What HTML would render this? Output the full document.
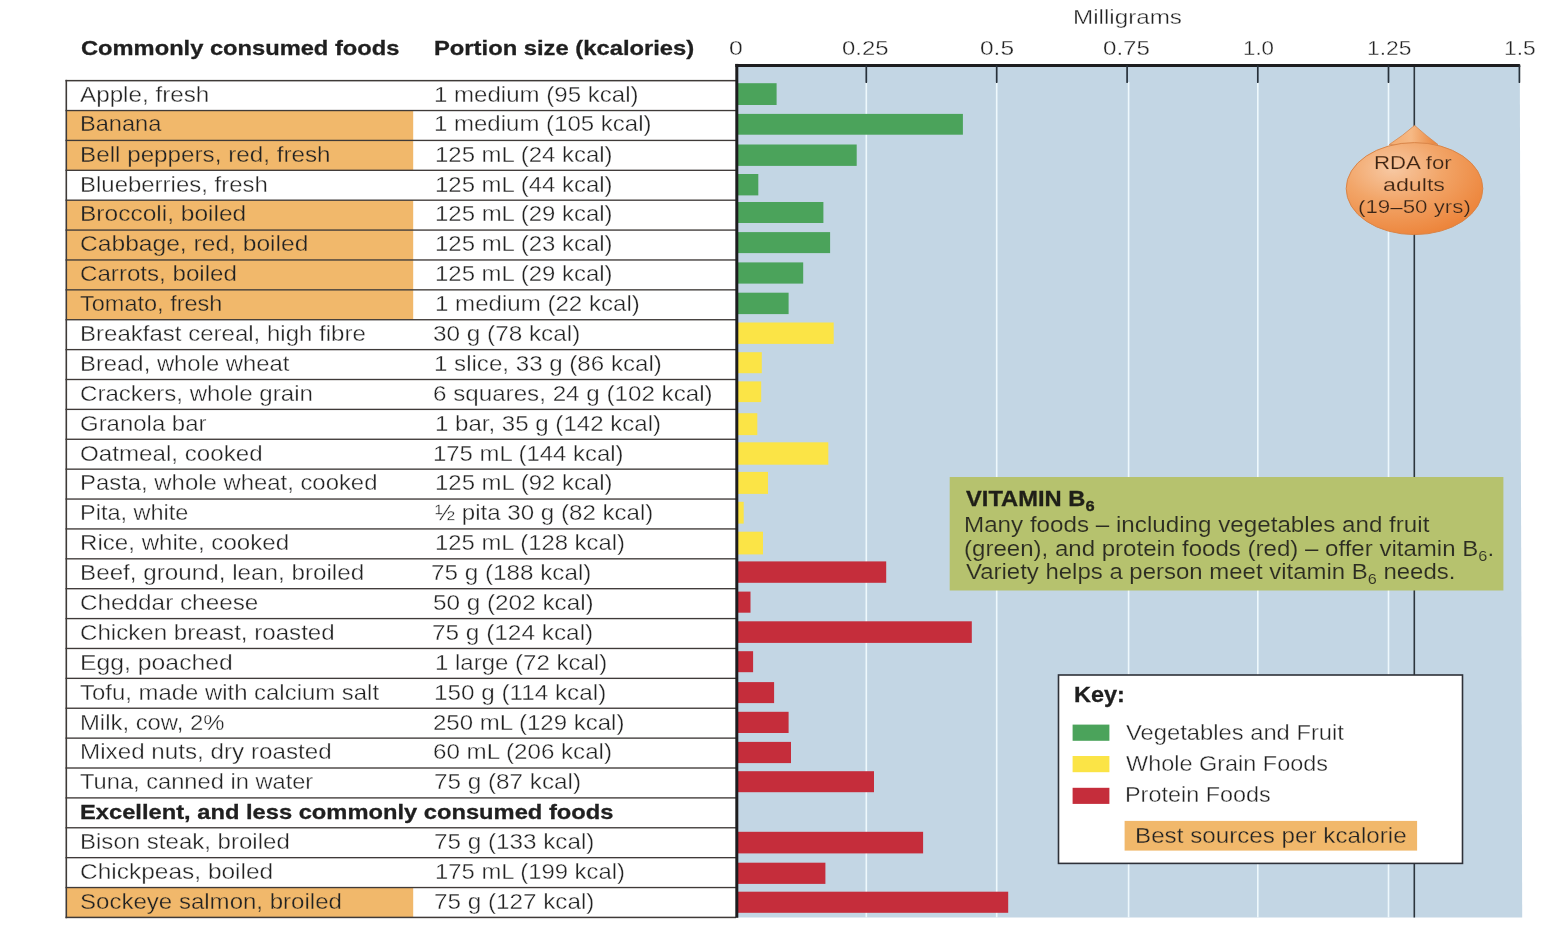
<!DOCTYPE html>
<html lang="en">
<head>
<meta charset="utf-8">
<title>Vitamin B6 in commonly consumed foods</title>
<style>
html,body{margin:0;padding:0;background:#fff;overflow:hidden;}
section{margin:0;padding:0;border:0;}
body{width:1545px;height:926px;overflow:hidden;position:relative;font-family:"Liberation Sans",sans-serif;}
#chart{position:absolute;left:0;top:0;width:1545px;height:926px;overflow:hidden;filter:blur(0.4px);}
#chart svg{position:absolute;left:0;top:0;}
.t{position:absolute;white-space:nowrap;line-height:1;transform-origin:0 0;margin:0;padding:0;font-weight:400;}
.t b{font-weight:700;}
.t .sub{position:relative;display:inline-block;}
</style>
</head>
<body>
<div id="chart">
<svg width="1545" height="926" viewBox="0 0 1545 926" aria-hidden="true">
<defs><radialGradient id="rg" cx="0.34" cy="0.28" r="0.80"><stop offset="0" stop-color="#f7c9a4"/><stop offset="0.45" stop-color="#f2a568"/><stop offset="1" stop-color="#ec8136"/></radialGradient><linearGradient id="cg" x1="0" y1="0" x2="1" y2="0"><stop offset="0" stop-color="#f3ab6f"/><stop offset="0.45" stop-color="#f6b985"/><stop offset="1" stop-color="#e88238"/></linearGradient></defs>
<polygon points="736.0,65.0 1519.8,65.0 1522.2,917.5 736.0,917.5" fill="#c3d6e4"/>
<rect x="865.5" y="82" width="1.6" height="835.5" fill="#eef8fc"/>
<rect x="995.9" y="82" width="1.6" height="835.5" fill="#eef8fc"/>
<rect x="1127.8" y="82" width="1.6" height="835.5" fill="#eef8fc"/>
<rect x="1257" y="82" width="1.6" height="835.5" fill="#eef8fc"/>
<rect x="1387.7" y="82" width="1.6" height="835.5" fill="#eef8fc"/>
<rect x="1413.5" y="66" width="1.6" height="851.5" fill="#2c353c"/>
<rect x="737" y="83.2" width="39.6" height="21.8" fill="#4ba35b"/>
<rect x="737" y="113.9" width="225.9" height="20.8" fill="#4ba35b"/>
<rect x="737" y="144.5" width="119.7" height="21.4" fill="#4ba35b"/>
<rect x="737" y="174" width="21.3" height="21.4" fill="#4ba35b"/>
<rect x="737" y="202" width="86.4" height="21" fill="#4ba35b"/>
<rect x="737" y="232.1" width="93.1" height="21" fill="#4ba35b"/>
<rect x="737" y="262.4" width="66.2" height="21.2" fill="#4ba35b"/>
<rect x="737" y="292.7" width="51.6" height="21.4" fill="#4ba35b"/>
<rect x="737" y="322.5" width="96.7" height="21.4" fill="#fbe446"/>
<rect x="737" y="352.2" width="24.8" height="21" fill="#fbe446"/>
<rect x="737" y="381.4" width="24.2" height="20.7" fill="#fbe446"/>
<rect x="737" y="413.2" width="20.3" height="21.9" fill="#fbe446"/>
<rect x="737" y="442.3" width="91.3" height="22.4" fill="#fbe446"/>
<rect x="737" y="471.9" width="31" height="22" fill="#fbe446"/>
<rect x="737" y="501.8" width="6.7" height="21.8" fill="#fbe446"/>
<rect x="737" y="531.7" width="26" height="22.7" fill="#fbe446"/>
<rect x="737" y="561.4" width="149.2" height="21.4" fill="#c52d3b"/>
<rect x="737" y="591.6" width="13.5" height="21.1" fill="#c52d3b"/>
<rect x="737" y="621.3" width="234.8" height="21.6" fill="#c52d3b"/>
<rect x="737" y="651.2" width="16.1" height="21" fill="#c52d3b"/>
<rect x="737" y="682.1" width="37.1" height="21" fill="#c52d3b"/>
<rect x="737" y="711.8" width="51.6" height="21.2" fill="#c52d3b"/>
<rect x="737" y="741.9" width="54" height="21.2" fill="#c52d3b"/>
<rect x="737" y="771.2" width="137" height="21" fill="#c52d3b"/>
<rect x="737" y="831.8" width="186.1" height="21.6" fill="#c52d3b"/>
<rect x="737" y="862.7" width="88.4" height="21.2" fill="#c52d3b"/>
<rect x="737" y="891.7" width="271.2" height="21.1" fill="#c52d3b"/>
<rect x="66.3" y="110.54" width="346.9" height="29.89" fill="#f1b86b"/>
<rect x="66.3" y="140.42" width="346.9" height="29.89" fill="#f1b86b"/>
<rect x="66.3" y="200.19" width="346.9" height="29.89" fill="#f1b86b"/>
<rect x="66.3" y="230.08" width="346.9" height="29.89" fill="#f1b86b"/>
<rect x="66.3" y="259.96" width="346.9" height="29.89" fill="#f1b86b"/>
<rect x="66.3" y="289.85" width="346.9" height="29.89" fill="#f1b86b"/>
<rect x="66.3" y="887.55" width="346.9" height="29.89" fill="#f1b86b"/>
<rect x="65.5" y="79.9" width="670.5" height="1.5" fill="#3f3a38"/>
<rect x="65.5" y="109.86" width="670.5" height="1.35" fill="#3f3a38"/>
<rect x="65.5" y="139.75" width="670.5" height="1.35" fill="#3f3a38"/>
<rect x="65.5" y="169.63" width="670.5" height="1.35" fill="#3f3a38"/>
<rect x="65.5" y="199.51" width="670.5" height="1.35" fill="#3f3a38"/>
<rect x="65.5" y="229.4" width="670.5" height="1.35" fill="#3f3a38"/>
<rect x="65.5" y="259.29" width="670.5" height="1.35" fill="#3f3a38"/>
<rect x="65.5" y="289.17" width="670.5" height="1.35" fill="#3f3a38"/>
<rect x="65.5" y="319.06" width="670.5" height="1.35" fill="#3f3a38"/>
<rect x="65.5" y="348.94" width="670.5" height="1.35" fill="#3f3a38"/>
<rect x="65.5" y="378.82" width="670.5" height="1.35" fill="#3f3a38"/>
<rect x="65.5" y="408.71" width="670.5" height="1.35" fill="#3f3a38"/>
<rect x="65.5" y="438.59" width="670.5" height="1.35" fill="#3f3a38"/>
<rect x="65.5" y="468.48" width="670.5" height="1.35" fill="#3f3a38"/>
<rect x="65.5" y="498.37" width="670.5" height="1.35" fill="#3f3a38"/>
<rect x="65.5" y="528.25" width="670.5" height="1.35" fill="#3f3a38"/>
<rect x="65.5" y="558.14" width="670.5" height="1.35" fill="#3f3a38"/>
<rect x="65.5" y="588.02" width="670.5" height="1.35" fill="#3f3a38"/>
<rect x="65.5" y="617.91" width="670.5" height="1.35" fill="#3f3a38"/>
<rect x="65.5" y="647.79" width="670.5" height="1.35" fill="#3f3a38"/>
<rect x="65.5" y="677.68" width="670.5" height="1.35" fill="#3f3a38"/>
<rect x="65.5" y="707.56" width="670.5" height="1.35" fill="#3f3a38"/>
<rect x="65.5" y="737.45" width="670.5" height="1.35" fill="#3f3a38"/>
<rect x="65.5" y="767.33" width="670.5" height="1.35" fill="#3f3a38"/>
<rect x="65.5" y="797.22" width="670.5" height="1.35" fill="#3f3a38"/>
<rect x="65.5" y="827.1" width="670.5" height="1.35" fill="#3f3a38"/>
<rect x="65.5" y="856.99" width="670.5" height="1.35" fill="#3f3a38"/>
<rect x="65.5" y="886.87" width="670.5" height="1.35" fill="#3f3a38"/>
<rect x="65.5" y="916.68" width="670.5" height="1.5" fill="#3f3a38"/>
<rect x="65.5" y="79.85" width="1.6" height="838.38" fill="#3f3a38"/>
<path d="M735.3 63.9 H1519.2 Q1520.3 63.9 1520.3 65 V66.9 H735.3 Z" fill="#1d1d1f"/>
<rect x="735.3" y="63.9" width="3.0" height="853.9" fill="#1d1d1f"/>
<line x1="866.3" y1="66" x2="866.3" y2="82.2" stroke="#27313a" stroke-width="1.7" stroke-linecap="round"/>
<line x1="996.7" y1="66" x2="996.7" y2="82.2" stroke="#27313a" stroke-width="1.7" stroke-linecap="round"/>
<line x1="1127.1" y1="66" x2="1127.1" y2="82.2" stroke="#27313a" stroke-width="1.7" stroke-linecap="round"/>
<line x1="1257.8" y1="66" x2="1257.8" y2="82.2" stroke="#27313a" stroke-width="1.7" stroke-linecap="round"/>
<line x1="1388.5" y1="66" x2="1388.5" y2="82.2" stroke="#27313a" stroke-width="1.7" stroke-linecap="round"/>
<line x1="1519.4" y1="66" x2="1519.4" y2="82.2" stroke="#27313a" stroke-width="1.7" stroke-linecap="round"/>
<rect x="949.7" y="477" width="553.7" height="113.5" fill="#b6c26e"/>
<rect x="1058.5" y="675" width="404" height="188.4" fill="#ffffff" stroke="#2e3138" stroke-width="1.6"/>
<rect x="1072.6" y="724.6" width="36.8" height="16.2" fill="#4ba35b"/>
<rect x="1072.6" y="756.0" width="36.8" height="16.2" fill="#fbe446"/>
<rect x="1072.6" y="787.8" width="36.8" height="16.1" fill="#c52d3b"/>
<rect x="1124.6" y="820.9" width="292.5" height="29.7" fill="#f1b86b"/>
<path d="M1414.6 125.4 Q1426 135.6 1438 144.6 L1389.2 144.6 Q1403 135.6 1414.6 125.4 Z" fill="url(#cg)" stroke="#d9864a" stroke-width="0.8"/>
<ellipse cx="1414.5" cy="188.6" rx="68.3" ry="46" fill="url(#rg)" stroke="#d98548" stroke-width="1"/>
</svg>
<section id="axis" aria-label="Milligrams axis">
<div class="t axis-title" style="left:1072.51px;top:7px;font-size:20.6px;color:#222222;-webkit-text-stroke:0.35px #fff;transform:scaleX(1.1753)">Milligrams</div>
<div class="t th" style="left:80.76px;top:38px;font-size:20.4px;color:#1f1f1f;-webkit-text-stroke:0.3px #1f1f1f;transform:scaleX(1.1612)"><b>Commonly consumed foods</b></div>
<div class="t th" style="left:433.61px;top:38px;font-size:20.4px;color:#1f1f1f;-webkit-text-stroke:0.3px #1f1f1f;transform:scaleX(1.1657)"><b>Portion size (kcalories)</b></div>
<div class="t tick" style="left:729.12px;top:38px;font-size:20.6px;color:#222222;-webkit-text-stroke:0.35px #fff;transform:scaleX(1.2039)">0</div>
<div class="t tick" style="left:842.45px;top:38px;font-size:20.6px;color:#222222;-webkit-text-stroke:0.35px #fff;transform:scaleX(1.1602)">0.25</div>
<div class="t tick" style="left:979.73px;top:38px;font-size:20.6px;color:#222222;-webkit-text-stroke:0.35px #fff;transform:scaleX(1.1893)">0.5</div>
<div class="t tick" style="left:1103.35px;top:38px;font-size:20.6px;color:#222222;-webkit-text-stroke:0.35px #fff;transform:scaleX(1.1705)">0.75</div>
<div class="t tick" style="left:1242.51px;top:38px;font-size:20.6px;color:#222222;-webkit-text-stroke:0.35px #fff;transform:scaleX(1.0806)">1.0</div>
<div class="t tick" style="left:1366.58px;top:38px;font-size:20.6px;color:#222222;-webkit-text-stroke:0.35px #fff;transform:scaleX(1.1061)">1.25</div>
<div class="t tick" style="left:1504.17px;top:38px;font-size:20.6px;color:#222222;-webkit-text-stroke:0.35px #fff;transform:scaleX(1.1088)">1.5</div>
</section>
<section id="foods" aria-label="Foods and portion sizes">
<div class="t food" style="left:80.4px;top:84px;font-size:21.6px;color:#222222;-webkit-text-stroke:0.35px #fff;transform:scaleX(1.1223)">Apple, fresh</div>
<div class="t portion" style="left:434.4px;top:84px;font-size:21.6px;color:#222222;-webkit-text-stroke:0.35px #fff;transform:scaleX(1.1137)">1 medium (95 kcal)</div>
<div class="t food" style="left:80.4px;top:113px;font-size:21.6px;color:#222222;-webkit-text-stroke:0.35px #f1b86b;transform:scaleX(1.0924)">Banana</div>
<div class="t portion" style="left:434.4px;top:113px;font-size:21.6px;color:#222222;-webkit-text-stroke:0.35px #fff;transform:scaleX(1.1118)">1 medium (105 kcal)</div>
<div class="t food" style="left:80.4px;top:144px;font-size:21.6px;color:#222222;-webkit-text-stroke:0.35px #f1b86b;transform:scaleX(1.1224)">Bell peppers, red, fresh</div>
<div class="t portion" style="left:434.5px;top:144px;font-size:21.6px;color:#222222;-webkit-text-stroke:0.35px #fff;transform:scaleX(1.1092)">125 mL (24 kcal)</div>
<div class="t food" style="left:80.4px;top:174px;font-size:21.6px;color:#222222;-webkit-text-stroke:0.35px #fff;transform:scaleX(1.1097)">Blueberries, fresh</div>
<div class="t portion" style="left:434.5px;top:174px;font-size:21.6px;color:#222222;-webkit-text-stroke:0.35px #fff;transform:scaleX(1.1092)">125 mL (44 kcal)</div>
<div class="t food" style="left:80.4px;top:203px;font-size:21.6px;color:#222222;-webkit-text-stroke:0.35px #f1b86b;transform:scaleX(1.1352)">Broccoli, boiled</div>
<div class="t portion" style="left:435px;top:203px;font-size:21.6px;color:#222222;-webkit-text-stroke:0.35px #fff;transform:scaleX(1.1098)">125 mL (29 kcal)</div>
<div class="t food" style="left:80.4px;top:233px;font-size:21.6px;color:#222222;-webkit-text-stroke:0.35px #f1b86b;transform:scaleX(1.1393)">Cabbage, red, boiled</div>
<div class="t portion" style="left:435px;top:233px;font-size:21.6px;color:#222222;-webkit-text-stroke:0.35px #fff;transform:scaleX(1.1098)">125 mL (23 kcal)</div>
<div class="t food" style="left:80.4px;top:263px;font-size:21.6px;color:#222222;-webkit-text-stroke:0.35px #f1b86b;transform:scaleX(1.1174)">Carrots, boiled</div>
<div class="t portion" style="left:434.5px;top:263px;font-size:21.6px;color:#222222;-webkit-text-stroke:0.35px #fff;transform:scaleX(1.1092)">125 mL (29 kcal)</div>
<div class="t food" style="left:80.4px;top:293px;font-size:21.6px;color:#222222;-webkit-text-stroke:0.35px #f1b86b;transform:scaleX(1.0884)">Tomato, fresh</div>
<div class="t portion" style="left:434.79px;top:293px;font-size:21.6px;color:#222222;-webkit-text-stroke:0.35px #fff;transform:scaleX(1.1154)">1 medium (22 kcal)</div>
<div class="t food" style="left:80.4px;top:323px;font-size:21.6px;color:#222222;-webkit-text-stroke:0.35px #fff;transform:scaleX(1.1126)">Breakfast cereal, high fibre</div>
<div class="t portion" style="left:433.34px;top:323px;font-size:21.6px;color:#222222;-webkit-text-stroke:0.35px #fff;transform:scaleX(1.1257)">30 g (78 kcal)</div>
<div class="t food" style="left:80.4px;top:353px;font-size:21.6px;color:#222222;-webkit-text-stroke:0.35px #fff;transform:scaleX(1.1044)">Bread, whole wheat</div>
<div class="t portion" style="left:434.49px;top:353px;font-size:21.6px;color:#222222;-webkit-text-stroke:0.35px #fff;transform:scaleX(1.1164)">1 slice, 33 g (86 kcal)</div>
<div class="t food" style="left:80.4px;top:383px;font-size:21.6px;color:#222222;-webkit-text-stroke:0.35px #fff;transform:scaleX(1.1152)">Crackers, whole grain</div>
<div class="t portion" style="left:432.97px;top:383px;font-size:21.6px;color:#222222;-webkit-text-stroke:0.35px #fff;transform:scaleX(1.1199)">6 squares, 24 g (102 kcal)</div>
<div class="t food" style="left:80.4px;top:413px;font-size:21.6px;color:#222222;-webkit-text-stroke:0.35px #fff;transform:scaleX(1.1092)">Granola bar</div>
<div class="t portion" style="left:434.5px;top:413px;font-size:21.6px;color:#222222;-webkit-text-stroke:0.35px #fff;transform:scaleX(1.1140)">1 bar, 35 g (142 kcal)</div>
<div class="t food" style="left:80.4px;top:443px;font-size:21.6px;color:#222222;-webkit-text-stroke:0.35px #fff;transform:scaleX(1.1186)">Oatmeal, cooked</div>
<div class="t portion" style="left:433.21px;top:443px;font-size:21.6px;color:#222222;-webkit-text-stroke:0.35px #fff;transform:scaleX(1.1073)">175 mL (144 kcal)</div>
<div class="t food" style="left:80.4px;top:472px;font-size:21.6px;color:#222222;-webkit-text-stroke:0.35px #fff;transform:scaleX(1.1062)">Pasta, whole wheat, cooked</div>
<div class="t portion" style="left:434.5px;top:472px;font-size:21.6px;color:#222222;-webkit-text-stroke:0.35px #fff;transform:scaleX(1.1092)">125 mL (92 kcal)</div>
<div class="t food" style="left:80.4px;top:502px;font-size:21.6px;color:#222222;-webkit-text-stroke:0.35px #fff;transform:scaleX(1.0884)">Pita, white</div>
<div class="t portion" style="left:434.82px;top:502px;font-size:21.6px;color:#222222;-webkit-text-stroke:0.35px #fff;transform:scaleX(1.1161)">½ pita 30 g (82 kcal)</div>
<div class="t food" style="left:80.4px;top:532px;font-size:21.6px;color:#222222;-webkit-text-stroke:0.35px #fff;transform:scaleX(1.1167)">Rice, white, cooked</div>
<div class="t portion" style="left:434.51px;top:532px;font-size:21.6px;color:#222222;-webkit-text-stroke:0.35px #fff;transform:scaleX(1.1038)">125 mL (128 kcal)</div>
<div class="t food" style="left:80.4px;top:562px;font-size:21.6px;color:#222222;-webkit-text-stroke:0.35px #fff;transform:scaleX(1.1219)">Beef, ground, lean, broiled</div>
<div class="t portion" style="left:431.36px;top:562px;font-size:21.6px;color:#222222;-webkit-text-stroke:0.35px #fff;transform:scaleX(1.1233)">75 g (188 kcal)</div>
<div class="t food" style="left:80.4px;top:592px;font-size:21.6px;color:#222222;-webkit-text-stroke:0.35px #fff;transform:scaleX(1.1254)">Cheddar cheese</div>
<div class="t portion" style="left:433.34px;top:592px;font-size:21.6px;color:#222222;-webkit-text-stroke:0.35px #fff;transform:scaleX(1.1248)">50 g (202 kcal)</div>
<div class="t food" style="left:80.4px;top:622px;font-size:21.6px;color:#222222;-webkit-text-stroke:0.35px #fff;transform:scaleX(1.1168)">Chicken breast, roasted</div>
<div class="t portion" style="left:432.46px;top:622px;font-size:21.6px;color:#222222;-webkit-text-stroke:0.35px #fff;transform:scaleX(1.1283)">75 g (124 kcal)</div>
<div class="t food" style="left:80.4px;top:652px;font-size:21.6px;color:#222222;-webkit-text-stroke:0.35px #fff;transform:scaleX(1.1469)">Egg, poached</div>
<div class="t portion" style="left:434.5px;top:652px;font-size:21.6px;color:#222222;-webkit-text-stroke:0.35px #fff;transform:scaleX(1.1122)">1 large (72 kcal)</div>
<div class="t food" style="left:80.4px;top:682px;font-size:21.6px;color:#222222;-webkit-text-stroke:0.35px #fff;transform:scaleX(1.1074)">Tofu, made with calcium salt</div>
<div class="t portion" style="left:434.48px;top:682px;font-size:21.6px;color:#222222;-webkit-text-stroke:0.35px #fff;transform:scaleX(1.1239)">150 g (114 kcal)</div>
<div class="t food" style="left:80.4px;top:712px;font-size:21.6px;color:#222222;-webkit-text-stroke:0.35px #fff;transform:scaleX(1.1045)">Milk, cow, 2%</div>
<div class="t portion" style="left:432.97px;top:712px;font-size:21.6px;color:#222222;-webkit-text-stroke:0.35px #fff;transform:scaleX(1.1127)">250 mL (129 kcal)</div>
<div class="t food" style="left:80.4px;top:741px;font-size:21.6px;color:#222222;-webkit-text-stroke:0.35px #fff;transform:scaleX(1.1214)">Mixed nuts, dry roasted</div>
<div class="t portion" style="left:432.97px;top:741px;font-size:21.6px;color:#222222;-webkit-text-stroke:0.35px #fff;transform:scaleX(1.1188)">60 mL (206 kcal)</div>
<div class="t food" style="left:80.4px;top:771px;font-size:21.6px;color:#222222;-webkit-text-stroke:0.35px #fff;transform:scaleX(1.0957)">Tuna, canned in water</div>
<div class="t portion" style="left:433.56px;top:771px;font-size:21.6px;color:#222222;-webkit-text-stroke:0.35px #fff;transform:scaleX(1.1240)">75 g (87 kcal)</div>
<div class="t th" style="left:79.52px;top:802px;font-size:20.4px;color:#1f1f1f;-webkit-text-stroke:0.3px #1f1f1f;transform:scaleX(1.1623)"><b>Excellent, and less commonly consumed foods</b></div>
<div class="t food" style="left:80.4px;top:831px;font-size:21.6px;color:#222222;-webkit-text-stroke:0.35px #fff;transform:scaleX(1.1132)">Bison steak, broiled</div>
<div class="t portion" style="left:433.56px;top:831px;font-size:21.6px;color:#222222;-webkit-text-stroke:0.35px #fff;transform:scaleX(1.1233)">75 g (133 kcal)</div>
<div class="t food" style="left:80.4px;top:861px;font-size:21.6px;color:#222222;-webkit-text-stroke:0.35px #fff;transform:scaleX(1.1336)">Chickpeas, boiled</div>
<div class="t portion" style="left:434.51px;top:861px;font-size:21.6px;color:#222222;-webkit-text-stroke:0.35px #fff;transform:scaleX(1.1038)">175 mL (199 kcal)</div>
<div class="t food" style="left:80.4px;top:891px;font-size:21.6px;color:#222222;-webkit-text-stroke:0.35px #f1b86b;transform:scaleX(1.1132)">Sockeye salmon, broiled</div>
<div class="t portion" style="left:433.56px;top:891px;font-size:21.6px;color:#222222;-webkit-text-stroke:0.35px #fff;transform:scaleX(1.1233)">75 g (127 kcal)</div>
</section>
<section id="rda" aria-label="RDA marker">
<div class="t rda" style="left:1374.17px;top:154px;font-size:18.6px;color:#3a2416;-webkit-text-stroke:0.25px #f2a566;transform:scaleX(1.1935)">RDA for</div>
<div class="t rda" style="left:1383.47px;top:176px;font-size:18.6px;color:#3a2416;-webkit-text-stroke:0.25px #f2a566;transform:scaleX(1.2482)">adults</div>
<div class="t rda" style="left:1357.95px;top:198px;font-size:18.6px;color:#3a2416;-webkit-text-stroke:0.25px #f2a566;transform:scaleX(1.2002)">(19–50 yrs)</div>
</section>
<section id="note" aria-label="Vitamin B6 note">
<div class="t note-h" style="left:966.2px;top:488px;font-size:21.6px;color:#1f1f18;-webkit-text-stroke:0.3px #1f1f18;transform:scaleX(1.0980)"><b>VITAMIN B<span class="sub" style="font-size:15px;top:5.2px">6</span></b></div>
<div class="t note" style="left:964.31px;top:515px;font-size:21.4px;color:#2c2c22;-webkit-text-stroke:0.15px #b6c26e;transform:scaleX(1.1312)">Many foods – including vegetables and fruit</div>
<div class="t note" style="left:964.37px;top:539px;font-size:21.4px;color:#2c2c22;-webkit-text-stroke:0.15px #b6c26e;transform:scaleX(1.1245)">(green), and protein foods (red) – offer vitamin B<span class="sub" style="font-size:14.5px;top:4.8px">6</span>.</div>
<div class="t note" style="left:965.5px;top:562px;font-size:21.4px;color:#2c2c22;-webkit-text-stroke:0.15px #b6c26e;transform:scaleX(1.1201)">Variety helps a person meet vitamin B<span class="sub" style="font-size:14.5px;top:4.8px">6</span> needs.</div>
</section>
<section id="key" aria-label="Key">
<div class="t key-h" style="left:1073.73px;top:684px;font-size:22px;color:#1f1f1f;-webkit-text-stroke:0.3px #1f1f1f;transform:scaleX(1.0678)"><b>Key:</b></div>
<div class="t key" style="left:1125.6px;top:723px;font-size:21.4px;color:#222222;-webkit-text-stroke:0.35px #fff;transform:scaleX(1.1106)">Vegetables and Fruit</div>
<div class="t key" style="left:1125.6px;top:754px;font-size:21.4px;color:#222222;-webkit-text-stroke:0.35px #fff;transform:scaleX(1.0964)">Whole Grain Foods</div>
<div class="t key" style="left:1124.97px;top:785px;font-size:21.4px;color:#222222;-webkit-text-stroke:0.35px #fff;transform:scaleX(1.0941)">Protein Foods</div>
<div class="t key" style="left:1134.71px;top:826px;font-size:21.4px;color:#222222;-webkit-text-stroke:0.35px #f1b86b;transform:scaleX(1.1312)">Best sources per kcalorie</div>
</section>
</div>
</body>
</html>
